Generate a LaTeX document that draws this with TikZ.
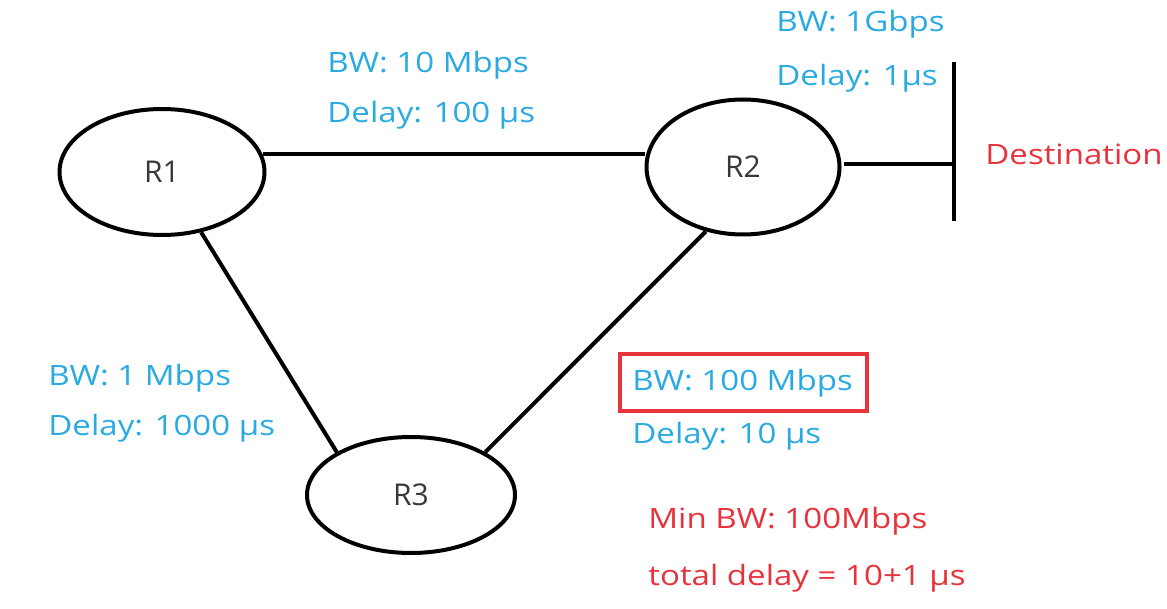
\documentclass[tikz,border=0pt]{standalone}
\usepackage{fontspec}
\setmainfont{Open Sans}
\newfontfamily\infofont[FakeStretch=1.18]{Open Sans}
\usetikzlibrary{shapes.geometric}
\definecolor{cblue}{RGB}{41,170,226}
\definecolor{cred}{RGB}{232,50,60}
\tikzset{
  router/.style={ellipse,draw,line width=2pt,inner sep=0pt,text=black!78,font=\fontsize{15}{18}\selectfont},
  info/.style={anchor=base west,inner sep=0pt,text=cblue,font=\infofont\fontsize{14}{17}\selectfont},
  note/.style={info,text=cred},
  wire/.style={line width=2pt}
}

\begin{document}
\begin{tikzpicture}[x=0.5pt,y=-0.5pt]
    \useasboundingbox (0,0) rectangle (1167,609);
    % routers
    \node[router,minimum width=102.5pt,minimum height=63pt] (R1) at (162,172) {R1};
    \node[router,minimum width=96.5pt,minimum height=67.5pt] (R2) at (743,167) {R2};
    \node[router,minimum width=104pt,minimum height=58pt] (R3) at (411,495) {R3};
    \coordinate (dtop) at (954,62);
    \coordinate (dbot) at (954,221);
    % links
    \draw[wire] (R1.10) -- (R1.10 -| R2.west);
    \draw[wire] (R1.-57) -- (R3.150);
    \draw[wire] (R2.240) -- (R3.30);
    \draw[wire] (R2.2) ++(3,0) -- (R2.2 -| dtop);
    \draw[wire] (dtop) -- (dbot);
    \node[note] (dest) at (985,165) {Destination};
    % link labels
    \node[info] (bw12) at (327,73) {BW: 10 Mbps};
    \node[info] (dl12) at (327,123) {Delay: 100 µs};
    \node[info] (bw2d) at (776,32) {BW: 1Gbps};
    \node[info] (dl2d) at (776,86) {Delay: 1µs};
    \node[info] (bw13) at (48,385) {BW: 1 Mbps};
    \node[info] (dl13) at (48,435) {Delay: 1000 µs};
    \node[info] (bw23) at (632,390) {BW: 100 Mbps};
    \node[info] (dl23) at (632,443) {Delay: 10 µs};
    \draw[cred,line width=1.7pt] (620,354) rectangle (867,411);
    % result
    \node[note] (minbw) at (648,528) {Min BW: 100Mbps};
    \node[note] (total) at (648,585) {total delay = 10+1 µs};
\end{tikzpicture}
\end{document}
